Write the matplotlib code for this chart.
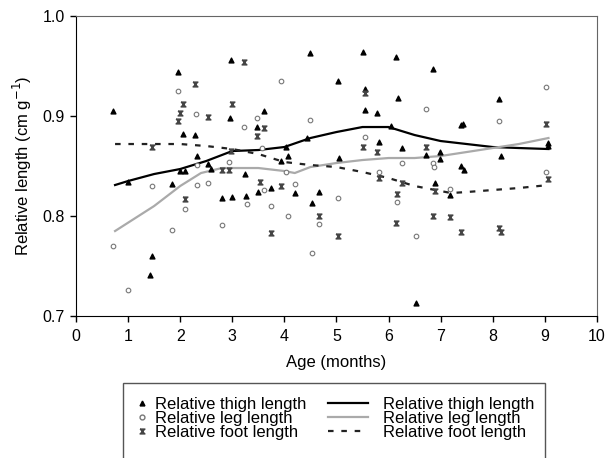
import matplotlib
matplotlib.use("Agg")
import matplotlib.pyplot as plt
from matplotlib.lines import Line2D
from matplotlib.patches import Rectangle

plt.rcParams['font.family'] = ['Liberation Sans', 'DejaVu Sans']

# scatter points
thigh_x = [0.72, 1.0, 1.42, 1.45, 1.84, 1.96, 2.0, 2.1, 2.06, 2.29, 2.33, 2.53, 2.6, 2.81,
           2.96, 2.97, 3.0, 3.24, 3.27, 3.5, 3.47, 3.6, 3.74, 3.93, 4.04, 4.07, 4.2, 4.43,
           4.5, 4.54, 4.67, 5.03, 5.05, 5.51, 5.55, 5.55, 5.78, 5.82, 6.04, 6.14, 6.19,
           6.25, 6.52, 6.72, 6.85, 6.89, 6.99, 6.99, 7.18, 7.40, 7.43, 7.40, 7.45, 8.12,
           8.16, 9.07, 9.07]
thigh_y = [0.905, 0.834, 0.741, 0.760, 0.832, 0.944, 0.845, 0.845, 0.882, 0.881, 0.860,
           0.852, 0.847, 0.818, 0.898, 0.956, 0.819, 0.842, 0.820, 0.824, 0.889, 0.905,
           0.828, 0.855, 0.869, 0.860, 0.823, 0.878, 0.963, 0.813, 0.824, 0.935, 0.858,
           0.964, 0.927, 0.906, 0.903, 0.874, 0.890, 0.959, 0.918, 0.868, 0.713, 0.861,
           0.947, 0.833, 0.864, 0.857, 0.821, 0.891, 0.892, 0.850, 0.846, 0.917, 0.860,
           0.873, 0.870]

leg_x = [0.72, 0.99, 1.45, 1.84, 1.96, 2.09, 2.30, 2.33, 2.33, 2.53, 2.81, 2.94, 3.23,
         3.28, 3.47, 3.57, 3.6, 3.74, 3.93, 4.04, 4.07, 4.2, 4.5, 4.54, 4.67, 5.03, 5.55,
         5.82, 6.17, 6.25, 6.52, 6.72, 6.85, 6.88, 7.18, 8.12, 9.03, 9.03]
leg_y = [0.770, 0.726, 0.830, 0.786, 0.925, 0.807, 0.902, 0.831, 0.851, 0.833, 0.791,
         0.854, 0.889, 0.812, 0.898, 0.868, 0.826, 0.810, 0.935, 0.844, 0.800, 0.832,
         0.896, 0.763, 0.792, 0.818, 0.879, 0.844, 0.814, 0.853, 0.780, 0.907, 0.853,
         0.849, 0.827, 0.895, 0.929, 0.844]

foot_x = [1.45, 1.96, 2.0, 2.06, 2.09, 2.28, 2.53, 2.80, 2.94, 2.97, 2.99, 3.23, 3.47,
          3.53, 3.6, 3.74, 3.93, 4.67, 5.03, 5.51, 5.55, 5.78, 5.82, 6.14, 6.17, 6.25,
          6.72, 6.85, 6.89, 7.18, 7.39, 8.12, 8.16, 9.03, 9.07]
foot_y = [0.869, 0.895, 0.903, 0.912, 0.817, 0.932, 0.899, 0.846, 0.846, 0.865, 0.912,
          0.954, 0.880, 0.834, 0.888, 0.783, 0.830, 0.800, 0.780, 0.869, 0.923, 0.864,
          0.838, 0.793, 0.822, 0.833, 0.869, 0.800, 0.825, 0.799, 0.784, 0.788, 0.784,
          0.892, 0.837]

# smoothed trend lines
thigh_lx = [0.75, 1.0, 1.5, 2.0, 2.5, 3.0, 3.5, 4.0, 4.5, 5.0, 5.5, 6.0, 6.5, 7.0, 7.5, 8.0, 8.5, 9.07]
thigh_ly = [0.831, 0.835, 0.842, 0.847, 0.855, 0.865, 0.866, 0.869, 0.878, 0.884, 0.889,
            0.889, 0.881, 0.875, 0.872, 0.869, 0.868, 0.867]
leg_lx = [0.75, 1.5, 2.0, 2.4, 2.8, 3.5, 4.0, 4.2, 4.5, 5.0, 5.5, 6.0, 6.5, 7.0, 7.5, 8.0, 8.5, 9.07]
leg_ly = [0.785, 0.810, 0.830, 0.843, 0.848, 0.848, 0.845, 0.843, 0.849, 0.853, 0.856,
          0.858, 0.858, 0.860, 0.864, 0.868, 0.872, 0.878]
foot_lx = [0.75, 1.5, 2.0, 2.5, 3.0, 3.5, 4.0, 4.5, 5.0, 5.5, 6.0, 6.5, 7.0, 7.2, 7.5, 8.0, 8.5, 9.07]
foot_ly = [0.872, 0.872, 0.872, 0.870, 0.867, 0.862, 0.854, 0.851, 0.849, 0.844, 0.838,
           0.830, 0.825, 0.823, 0.824, 0.826, 0.828, 0.831]

labels = ['Relative thigh length', 'Relative leg length', 'Relative foot length']

hourglass = [(-1, 1), (1, 1), (-1, -1), (1, -1), (-1, 1)]

fig = plt.figure(figsize=(6.06, 4.58), dpi=100)
ax = fig.add_axes([0.1254, 0.31, 0.8596, 0.655])

ax.scatter(thigh_x, thigh_y, marker='^', s=12, color='black', zorder=3)
ax.scatter(leg_x, leg_y, marker='o', s=11, facecolor='white', edgecolor='#777777',
           linewidth=0.8, zorder=3)
ax.scatter(foot_x, foot_y, marker=hourglass, s=12, color='#444444', zorder=3)

ax.plot(thigh_lx, thigh_ly, color='black', lw=1.6, zorder=2)
ax.plot(leg_lx, leg_ly, color='#aaaaaa', lw=1.6, zorder=2)
ax.plot(foot_lx, foot_ly, color='#222222', lw=1.6, dashes=(2.5, 3.5), zorder=2)

ax.set_xlim(0, 10)
ax.set_ylim(0.7, 1.0)
ax.set_xticks(range(0, 11))
ax.set_yticks([0.7, 0.8, 0.9, 1.0])
ax.set_yticklabels(['0.7', '0.8', '0.9', '1.0'])
ax.tick_params(direction='out', length=4, width=1, labelsize=11.5, colors='black', pad=4)
ax.tick_params(axis='x', pad=5)
for s in ['top', 'right']:
    ax.spines[s].set_color('#666666')
ax.set_xlabel('Age (months)', fontsize=12, labelpad=8)
ax.set_ylabel('Relative length (cm g$^{-1}$)', fontsize=12, labelpad=6)

# legend: marker column and line column inside one frame that runs off the bottom
marker_handles = [
    Line2D([], [], ls='none', marker='^', ms=3.5, color='black'),
    Line2D([], [], ls='none', marker='o', ms=3.5, mfc='white', mec='#777777'),
    Line2D([], [], ls='none', marker=hourglass, ms=3.5, color='#444444'),
]
line_handles = [
    Line2D([], [], color='black', lw=1.6),
    Line2D([], [], color='#aaaaaa', lw=1.6),
    Line2D([], [], color='#222222', lw=1.6, dashes=(2.5, 3.5)),
]
leg_kw = dict(loc='upper left', fontsize=12, frameon=False, borderpad=0,
              labelspacing=-0.06, borderaxespad=0)
fig.legend(marker_handles, labels, bbox_to_anchor=(0.221, 0.134),
           handlelength=0.96, handletextpad=0.3, **leg_kw)
fig.legend(line_handles, labels, bbox_to_anchor=(0.541, 0.134),
           handlelength=2.4, handletextpad=0.9, **leg_kw)
fig.patches.append(Rectangle((0.203, -0.02), 0.696, 0.1838, transform=fig.transFigure,
                             fill=False, edgecolor='#555555', lw=1))

fig.savefig('out.png', dpi=100)
